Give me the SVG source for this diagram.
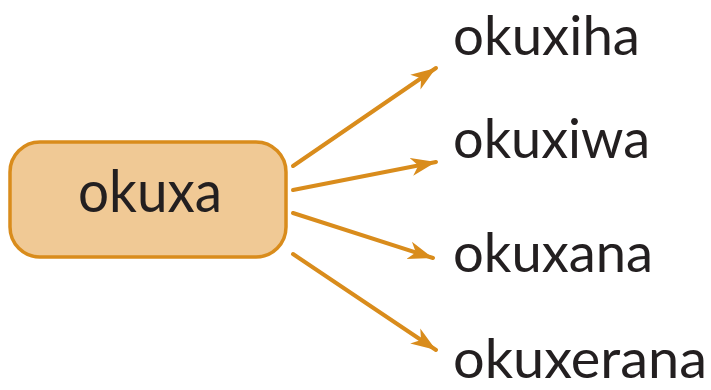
<svg xmlns="http://www.w3.org/2000/svg" width="711" height="390" viewBox="0 0 711 390">
<style>
.t{font-family:Lato,"Open Sans","Liberation Sans",sans-serif;font-size:58px;fill:#231f20}
.r{font-size:55px}
.c{stroke:#d98c1c;stroke-width:4;fill:none;stroke-linecap:round}
</style>
<defs>
<marker id="ah" markerUnits="userSpaceOnUse" markerWidth="26" markerHeight="20" refX="25" refY="10" orient="auto" viewBox="0 0 26 20">
<path d="M0,1 L25,10 L0,19 L7,10 Z" fill="#d98c1c"/>
</marker>
</defs>
<rect width="711" height="390" fill="#fff"/>
<g id="node-okuxa">
<rect x="10" y="142" width="276" height="115" rx="30" fill="#f0c995" stroke="#d98c1c" stroke-width="3.5"/>
<text class="t" x="150" y="212" text-anchor="middle" textLength="144" lengthAdjust="spacingAndGlyphs">okuxa</text>
</g>
<g id="node-okuxiha"><text class="t r" x="453" y="55" textLength="187" lengthAdjust="spacingAndGlyphs">okuxiha</text></g>
<g id="node-okuxiwa"><text class="t r" x="453" y="158" textLength="197" lengthAdjust="spacingAndGlyphs">okuxiwa</text></g>
<g id="node-okuxana"><text class="t r" x="453" y="272" textLength="200" lengthAdjust="spacingAndGlyphs">okuxana</text></g>
<g id="node-okuxerana"><text class="t r" x="453" y="378" textLength="254" lengthAdjust="spacingAndGlyphs">okuxerana</text></g>
<g id="connectors">
<line class="c" x1="293" y1="166" x2="436" y2="68" marker-end="url(#ah)"/>
<line class="c" x1="293" y1="190" x2="436" y2="162" marker-end="url(#ah)"/>
<line class="c" x1="293" y1="213" x2="433" y2="258" marker-end="url(#ah)"/>
<line class="c" x1="293" y1="254" x2="436" y2="350" marker-end="url(#ah)"/>
</g>
</svg>
